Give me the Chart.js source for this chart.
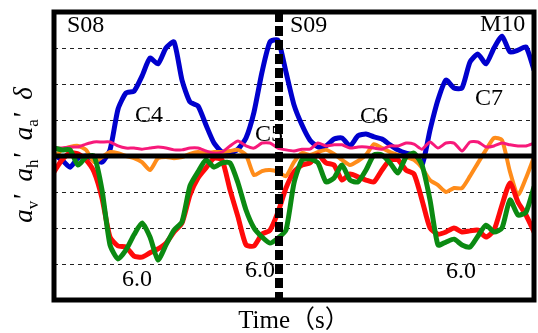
<!DOCTYPE html>
<html>
<head>
<meta charset="utf-8">
<script src="https://cdn.jsdelivr.net/npm/chart.js@4.4.1/dist/chart.umd.min.js"></script>
<style>
body { margin: 0; background: #fff; }
</style>
</head>
<body>
<canvas id="myChart" width="538" height="333"></canvas>
<script>
// time axis (s), one sample every 0.4 s
const time = [0, 0.4, 0.8, 1.2, 1.6, 2.0, 2.4, 2.8, 3.2, 3.6,
  4.0, 4.4, 4.8, 5.2, 5.6, 6.0, 6.4, 6.8, 7.2, 7.6,
  8.0, 8.4, 8.8, 9.2, 9.6, 10.0, 10.4, 10.8, 11.2, 11.6,
  12.0, 12.4, 12.8, 13.2, 13.6, 14.0, 14.4, 14.8, 15.2, 15.6,
  16.0, 16.4, 16.8, 17.2, 17.6, 18.0, 18.4, 18.8, 19.2, 19.6,
  20.0, 20.4, 20.8, 21.2, 21.6, 22.0, 22.4, 22.8, 23.2, 23.6, 24.0]

// blue: delta
const deltaSeries = [0.03, -0.11, -0.31, -0.06, 0, -0.11, -0.17, 0.17, 1.3, 1.75,
  1.8, 2.22, 2.72, 2.56, 3.0, 3.17, 2.11, 1.5, 1.39, 0.86,
  0.36, 0.11, 0.08, 0.19, 0.5, 1.22, 2.33, 3.17, 3.22, 2.33,
  1.42, 0.86, 0.44, 0.25, 0.28, 0.47, 0.5, 0.28, 0.56, 0.61,
  0.53, 0.47, 0.31, 0.17, 0.08, 0.03, -0.25, 0.72, 1.56, 2.11,
  1.89, 1.89, 2.61, 2.83, 2.56, 3.0, 3.33, 2.89, 2.94, 3.03, 2.39]
// pink: a_a'
const aaSeries = [0.22, 0.22, 0.25, 0.25, 0.33, 0.39, 0.39, 0.39, 0.28, 0.22,
  0.22, 0.19, 0.22, 0.25, 0.22, 0.17, 0.17, 0.22, 0.22, 0.14,
  0.08, 0.11, 0.28, 0.42, 0.28, 0.22, 0.36, 0.36, 0.22, 0.17,
  0.14, 0.19, 0.19, 0.36, 0.28, 0.31, 0.31, 0.22, 0.25, 0.25,
  0.22, 0.19, 0.28, 0.28, 0.36, 0.33, 0.19, 0.39, 0.22, 0.36,
  0.36, 0.14, 0.39, 0.39, 0.25, 0.28, 0.36, 0.31, 0.28, 0.28, 0.36]
// orange: a_h'
const ahSeries = [-0.03, 0.17, 0.25, 0.28, 0.17, -0.17, -0.03, 0.11, 0.08, 0,
  -0.06, -0.17, -0.39, -0.06, -0.03, -0.06, -0.03, 0.06, 0.11, 0.08,
  0.11, 0.11, 0.14, 0.17, 0.03, -0.53, -0.42, -0.39, -0.44, -0.56,
  -0.17, 0.08, 0.03, 0.11, 0.17, 0.06, -0.11, -0.25, -0.14, 0.03,
  0.33, 0.22, 0.11, 0.03, -0.03, -0.11, -0.33, -0.67, -0.81, -1.0,
  -0.89, -0.89, -0.56, -0.19, 0.17, 0.5, 0.44, -0.44, -1.08, -0.61, -0.03]
// red: a_v'
const avSeries = [-0.44, -0.11, 0.08, 0.06, -0.11, -0.44, -1.17, -2.25, -2.5, -2.53,
  -2.78, -2.81, -2.69, -2.58, -2.42, -2.11, -1.86, -1.08, -0.61, -0.33,
  -0.06, -0.11, -0.94, -1.69, -2.47, -2.5, -2.17, -2.06, -1.56, -0.89,
  -0.44, -0.25, -0.19, 0.03, -0.19, -0.25, -0.67, -0.5, -0.58, -0.67,
  -0.72, -0.39, -0.11, -0.11, -0.39, -0.5, -1.22, -2.0, -2.17, -2.11,
  -2.0, -2.11, -2.08, -2.06, -2.25, -2.06, -1.36, -0.75, -1.28, -1.64, -2.11]
// green: second a_v' trace
const avSeries2 = [0.22, 0.17, 0.17, -0.25, -0.03, 0, -0.94, -2.47, -2.86, -2.61,
  -2.19, -1.86, -2.25, -2.89, -2.47, -2.06, -1.83, -0.83, -0.44, -0.11,
  -0.31, -0.19, -0.19, -0.75, -1.5, -2.0, -2.25, -2.42, -2.28, -2.06,
  -0.75, -0.11, -0.08, -0.19, -0.72, -0.61, -0.25, -0.67, -0.72, -0.39,
  0.03, 0.03, -0.19, -0.47, -0.03, 0.08, -0.25, -1.22, -2.47, -2.39,
  -2.31, -2.47, -2.53, -2.22, -1.92, -2.11, -2.0, -1.22, -1.64, -1.56, -0.86]

// text notes on the plot (time, value)
const noteText = ['S08', 'S09', 'M10', 'C4', 'C5', 'C6', 'C7', '6.0', '6.0', '6.0']
const noteTime = [0.65, 11.8, 21.3, 4.05, 10.05, 15.3, 21.05, 3.4, 9.55, 19.6]
const noteValue = [3.44, 3.44, 3.47, 0.94, 0.42, 0.92, 1.42, -3.61, -3.36, -3.39]
const splitTime = 11.25

function points(arr){
    return time.map((t, i) => ({x: t, y: arr[i]}))
}
function line(arr, color, width){
    return {
        data: points(arr),
        borderColor: color,
        borderWidth: width,
        pointRadius: 0,
        tension: 0.2,
        borderJoinStyle: 'round',
        borderCapStyle: 'round',
        fill: false
    }
}

const overlay = {
    id: 'overlay',
    afterDatasetsDraw(chart){
        const {ctx, chartArea: a, scales: {x, y}} = chart
        ctx.save()
        ctx.strokeStyle = '#000'
        ctx.lineWidth = 5
        ctx.beginPath()
        ctx.moveTo(a.left, y.getPixelForValue(0))
        ctx.lineTo(a.right, y.getPixelForValue(0))
        ctx.stroke()

        ctx.fillStyle = '#000'
        ctx.font = '24px "Liberation Serif"'
        ctx.textBaseline = 'alphabetic'
        ctx.textAlign = 'left'
        noteText.forEach((t, i) => {
            ctx.fillText(t, x.getPixelForValue(noteTime[i]), y.getPixelForValue(noteValue[i]))
        })

        const sx = x.getPixelForValue(splitTime)
        ctx.setLineDash([10, 4])
        ctx.lineWidth = 8
        ctx.beginPath()
        ctx.moveTo(sx, a.top)
        ctx.lineTo(sx, a.bottom)
        ctx.stroke()

        ctx.setLineDash([])
        ctx.lineWidth = 5
        ctx.strokeRect(a.left, a.top, a.width, a.height)
        ctx.restore()
    },
    afterDraw(chart){
        const ctx = chart.ctx
        const big = 'italic 27px "Liberation Serif"'
        const small = '17px "Liberation Serif"'
        const parts = [['a', big, 0], ['v', small, 6], ["'  ", big, 0],
            ['a', big, 0], ['h', small, 6], ["'  ", big, 0],
            ['a', big, 0], ['a', small, 6], ["'  ", big, 0],
            ['\u03b4', big, 0]]
        ctx.save()
        ctx.translate(32, 155)
        ctx.rotate(-Math.PI / 2)
        ctx.fillStyle = '#000'
        ctx.textBaseline = 'alphabetic'
        let w = 0
        parts.forEach(p => { ctx.font = p[1]; w += ctx.measureText(p[0]).width })
        let pos = -w / 2
        parts.forEach(p => {
            ctx.font = p[1]
            ctx.fillText(p[0], pos, p[2])
            pos += ctx.measureText(p[0]).width
        })
        ctx.restore()
    }
}

new Chart(document.getElementById('myChart'), {
    type: 'line',
    data: {
        datasets: [
            line(avSeries2, '#0b8a12', 5),
            line(avSeries, '#ff0a0a', 5),
            line(aaSeries, '#f7197a', 3),
            line(ahSeries, '#ff8c1a', 4),
            line(deltaSeries, '#0000cd', 5)
        ]
    },
    options: {
        responsive: false,
        animation: false,
        layout: {padding: {top: 12, right: 4, left: 0, bottom: 0}},
        plugins: {legend: {display: false}, tooltip: {enabled: false}},
        scales: {
            x: {
                type: 'linear',
                min: 0,
                max: 24,
                grid: {display: false},
                border: {display: false},
                ticks: {display: false},
                title: {
                    display: true,
                    text: 'Time\uff08s\uff09',
                    color: '#000',
                    font: {family: '"Liberation Serif", "Noto Sans CJK JP"', size: 25, lineHeight: 1},
                    padding: {top: 0, bottom: -1}
                },
                afterFit(scale){ scale.height = 33 }
            },
            y: {
                min: -4,
                max: 4,
                ticks: {display: false, stepSize: 1},
                grid: {color: '#222', lineWidth: 1, drawTicks: false},
                border: {display: false, dash: [4, 4]},
                afterFit(scale){ scale.width = 54 }
            }
        }
    },
    plugins: [overlay]
})
</script>
</body>
</html>
